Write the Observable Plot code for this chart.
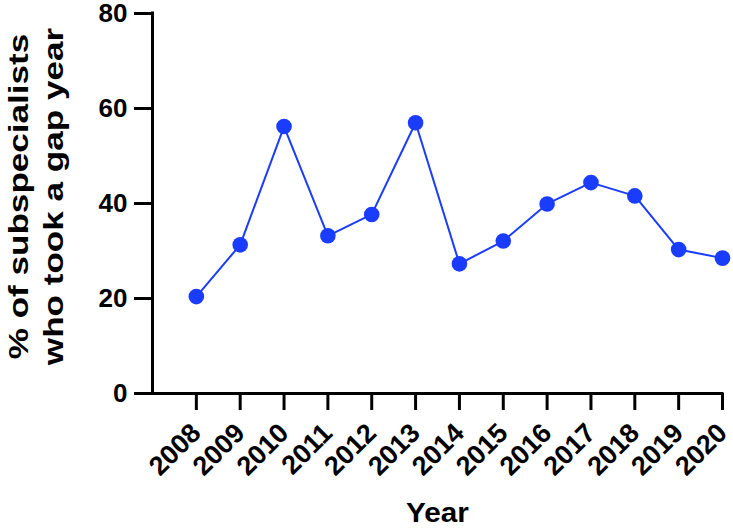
<!DOCTYPE html>
<html>
<head>
<meta charset="utf-8">
<script src="https://cdn.jsdelivr.net/npm/d3@7"></script>
<script src="https://cdn.jsdelivr.net/npm/@observablehq/plot@0.6"></script>
<style>
  html, body { margin: 0; padding: 0; background: #fff; }
</style>
</head>
<body>
<div id="chart"></div>
<script>
const years = [2008, 2009, 2010, 2011, 2012, 2013, 2014, 2015, 2016, 2017, 2018, 2019, 2020];
const pct = [20.4, 31.3, 56.2, 33.2, 37.7, 57.0, 27.3, 32.1, 39.9, 44.4, 41.6, 30.3, 28.5];
const yTicks = [0, 20, 40, 60, 80];
const xLabel = "Year";
const yLabel1 = "% of subspecialists";
const yLabel2 = "who took a gap year";

const data = years.map((year, i) => ({year, pct: pct[i]}));
const blue = "#1a3cff";
const font = "'Liberation Sans', Arial, Helvetica, sans-serif";

const chart = Plot.plot({
  width: 733,
  height: 530,
  marginLeft: 152,
  marginRight: 11,
  marginTop: 13,
  marginBottom: 137,
  x: {domain: [2007, 2020]},
  y: {domain: [0, 80]},
  style: {fontFamily: font, fontWeight: "bold", fontSize: "26px", color: "black", background: "white", overflow: "visible"},
  marks: [
    Plot.axisY({ticks: yTicks, tickSize: 18, tickPadding: 7, strokeWidth: 3, fontSize: 26, label: null}),
    Plot.axisX({ticks: years, tickFormat: d => String(d), tickSize: 17, tickPadding: 18, tickRotate: -45, strokeWidth: 3, fontSize: 27, label: null}),
    Plot.ruleX([2007], {strokeWidth: 3, strokeLinecap: "square"}),
    Plot.ruleY([0], {strokeWidth: 3, strokeLinecap: "square"}),
    Plot.line(data, {x: "year", y: "pct", stroke: blue, strokeWidth: 2}),
    Plot.dot(data, {x: "year", y: "pct", r: 7.8, fill: blue, stroke: "none"}),
    Plot.text([xLabel], {frameAnchor: "bottom", dy: 128, fontSize: 27, fontWeight: "bold"}),
    Plot.text([yLabel1], {frameAnchor: "left", textAnchor: "middle", dx: -133.5, dy: -7, rotate: -90, fontSize: 27, fontWeight: "bold"}),
    Plot.text([yLabel2], {frameAnchor: "left", textAnchor: "middle", dx: -98, dy: -7, rotate: -90, fontSize: 27, fontWeight: "bold"})
  ]
});

const yearStrings = new Set(years.map(String));
const yTickStrings = new Set(yTicks.map(String));
d3.select(chart).selectAll("text").each(function() {
  const t = this.textContent;
  const tr = this.getAttribute("transform") || "";
  if (t === yLabel1 || t === yLabel2) {
    // widen the rotated y-axis title along its reading direction to match the reference
    this.setAttribute("transform", tr + " scale(1.3,1)");
  } else if (t === xLabel) {
    this.setAttribute("transform", tr + " scale(1.1,1)");
  } else if (yearStrings.has(t)) {
    this.style.fontSize = "27px";
  } else if (yTickStrings.has(t)) {
    this.style.fontSize = "26px";
  }
});

document.getElementById("chart").append(chart);
</script>
</body>
</html>
